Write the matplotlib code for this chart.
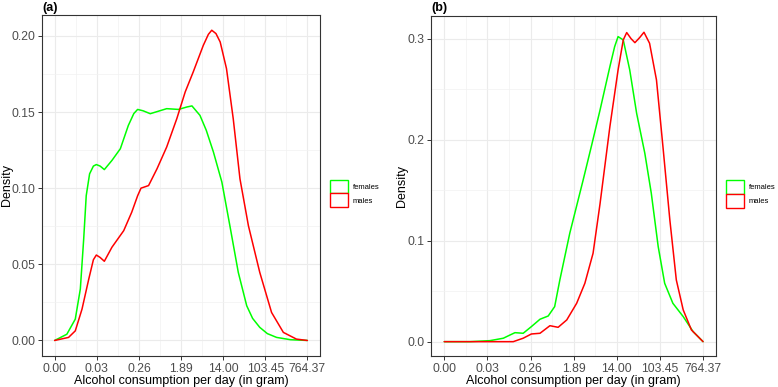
import matplotlib
matplotlib.use("Agg")
import matplotlib.pyplot as plt
from matplotlib.patches import Patch
from matplotlib.ticker import MultipleLocator

plt.rcParams['font.family'] = ['Liberation Sans', 'DejaVu Sans']

tick_labels = ["0.00", "0.03", "0.26", "1.89", "14.00", "103.45", "764.37"]
series_names = ["females", "males"]
series_colors = ["#00FF00", "#FF0000"]

# Panel (a): x in tick-index units (log scale), density
a_fem_x = [0, 0.29, 0.49, 0.61, 0.69, 0.75, 0.83, 0.92, 0.99, 1.08, 1.18, 1.36, 1.56, 1.75, 1.88, 1.97, 2.10, 2.27,
           2.46, 2.66, 2.94, 3.14, 3.26, 3.45, 3.60, 3.77, 3.97, 4.16, 4.36, 4.56, 4.70, 4.87, 5.05, 5.27, 5.60, 6.0]
a_fem_y = [0, 0.0041, 0.014, 0.0338, 0.0667, 0.0951, 0.1094, 0.1145, 0.1155, 0.1145, 0.1122, 0.1182, 0.1259, 0.1412, 0.149, 0.1517, 0.1508, 0.1489,
           0.1505, 0.1522, 0.1517, 0.1533, 0.154, 0.1478, 0.138, 0.1237, 0.104, 0.0754, 0.0447, 0.0228, 0.0145, 0.0086, 0.0045, 0.002, 0.0005, 0]
a_mal_x = [0, 0.33, 0.49, 0.65, 0.81, 0.92, 0.99, 1.08, 1.18, 1.36, 1.64, 1.83, 1.97, 2.05, 2.23, 2.43, 2.66, 2.90, 3.10, 3.29,
           3.53, 3.65, 3.73, 3.83, 3.93, 4.08, 4.24, 4.40, 4.60, 4.87, 5.15, 5.43, 5.74, 6.0]
a_mal_y = [0, 0.002, 0.0063, 0.0206, 0.0403, 0.053, 0.0561, 0.0545, 0.052, 0.0612, 0.0721, 0.0842, 0.095, 0.1, 0.1017, 0.1127, 0.127, 0.1456, 0.1632, 0.1763,
           0.1938, 0.2010, 0.2037, 0.2015, 0.196, 0.1785, 0.1456, 0.1061, 0.0754, 0.0447, 0.0184, 0.0053, 0.0009, 0]

# Panel (b)
b_fem_x = [0, 0.6, 1.06, 1.37, 1.52, 1.64, 1.83, 2.02, 2.22, 2.41, 2.56, 2.68, 2.91, 3.22, 3.42, 3.61, 3.84, 3.95, 4.03, 4.15, 4.30,
           4.46, 4.65, 4.80, 4.96, 5.11, 5.30, 5.54, 5.77, 6.0]
b_fem_y = [0, 0, 0.001, 0.0034, 0.0065, 0.0089, 0.0083, 0.0149, 0.0222, 0.0254, 0.0347, 0.0611, 0.1073, 0.160, 0.195, 0.2290, 0.2723, 0.292, 0.302, 0.2987, 0.269,
           0.2261, 0.1865, 0.1469, 0.0941, 0.0578, 0.038, 0.0248, 0.0099, 0]
b_mal_x = [0, 1.60, 1.83, 2.02, 2.22, 2.45, 2.64, 2.84, 3.07, 3.26, 3.45, 3.61, 3.84, 4.03, 4.15, 4.23, 4.33, 4.42, 4.53, 4.63,
           4.76, 4.92, 5.07, 5.23, 5.38, 5.54, 5.73, 6.0]
b_mal_y = [0, 0, 0.0034, 0.0076, 0.0083, 0.0158, 0.0142, 0.0215, 0.038, 0.0578, 0.0875, 0.136, 0.2129, 0.269, 0.2987, 0.306, 0.300, 0.296, 0.301, 0.3063,
           0.2954, 0.2591, 0.1931, 0.1205, 0.0611, 0.0314, 0.0116, 0]

fig = plt.figure(figsize=(7.78, 3.87), dpi=100)
ax_a = fig.add_axes([42/778, 1-356/387, 278/778, 341/387])
ax_b = fig.add_axes([431.3/778, 1-356/387, 284.7/778, 340/387])

grey30 = "#4D4D4D"
grey20 = "#333333"

def style(ax, ylim, ymajor, ylab_x):
    ax.set_facecolor("white")
    ax.set_xlim(-0.3, 6.3)
    ax.set_ylim(*ylim)
    ax.set_xticks(range(len(tick_labels)))
    ax.set_xticklabels(tick_labels)
    ax.xaxis.set_minor_locator(MultipleLocator(0.5))
    ax.yaxis.set_major_locator(MultipleLocator(ymajor))
    ax.yaxis.set_minor_locator(MultipleLocator(ymajor/2))
    ax.grid(True, which="major", color="#EBEBEB", lw=0.8)
    ax.grid(True, which="minor", color="#F2F2F2", lw=0.5)
    ax.set_axisbelow(True)
    for s in ax.spines.values():
        s.set_color(grey20)
        s.set_linewidth(0.8)
    ax.tick_params(which="major", length=3, width=0.7, color=grey20, labelsize=8.7, labelcolor=grey30, pad=2)
    ax.tick_params(which="minor", length=0)
    ax.set_xlabel("Alcohol consumption per day (in gram)", fontsize=9, va="center")
    ax.xaxis.set_label_coords(0.5, -0.073)
    ax.set_ylabel("Density", fontsize=9, va="center")
    ax.yaxis.set_label_coords(ylab_x, 0.5)

for ax, data, ylim, ymaj, fmt, tag, ylx in [
    (ax_a, [(a_fem_x, a_fem_y), (a_mal_x, a_mal_y)], (-0.0102, 0.2137), 0.05, "{:.2f}", "(a)", -0.126),
    (ax_b, [(b_fem_x, b_fem_y), (b_mal_x, b_mal_y)], (-0.0142, 0.3224), 0.1, "{:.1f}", "(b)", -0.104),
]:
    style(ax, ylim, ymaj, ylx)
    for (xs, ys), c in zip(data, series_colors):
        ax.plot(xs, ys, color=c, lw=1.1, solid_joinstyle="round", solid_capstyle="round")
    ticks = [v for v in ax.get_yticks() if ylim[0] <= v <= ylim[1]]
    ax.set_yticks(ticks)
    ax.set_yticklabels([fmt.format(v) for v in ticks])
    pos = ax.get_position()
    fig.text(pos.x0, 1 - 2/387, tag, fontsize=9, fontweight="bold", va="top", ha="left")
    handles = [Patch(facecolor="white", edgecolor=c, linewidth=1.0) for c in series_colors]
    ax.legend(handles, series_names, loc="center left", bbox_to_anchor=(1.035, 0.477),
              frameon=False, fontsize=5.5, handlelength=2.4, handleheight=2.4,
              labelspacing=0.0, handletextpad=0.6, borderpad=0, borderaxespad=0)

fig.savefig("out.png", dpi=100)
